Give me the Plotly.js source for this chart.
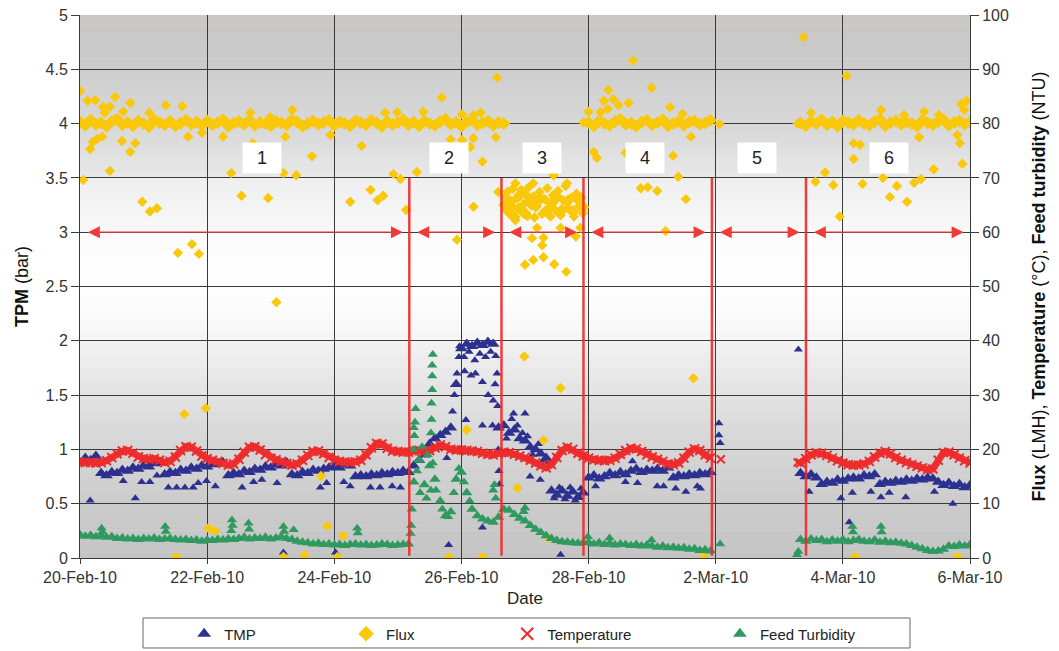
<!DOCTYPE html>
<html>
<head>
<meta charset="utf-8">
<script src="https://cdn.plot.ly/plotly-3.0.1.min.js"></script>
<style>html,body{margin:0;padding:0;background:#fff}#chart{width:1059px;height:651px}</style>
</head>
<body>
<div id="chart"></div>
<script>
// ---------------- DATA ----------------
// Regular samples every 2 hours starting 20-Feb-2010 00:00 (null = no data)
const seriesStart = '2010-02-20';
const sampleHours = 2;

// TMP (bar), left axis
const tmpMain = [
 0.88,0.92,0.90,0.94, 0.78,0.76,0.79,0.78,0.81,0.80,0.83,0.82,0.85,0.84,0.87,0.88,
 0.77,0.79,0.78,0.81,0.80,0.83,0.82,0.85,0.84,0.86,0.87,0.88,
 0.76,0.78,0.77,0.80,0.79,0.82,0.81,0.84,0.83,0.86,0.85,0.88,
 0.77,0.76,0.79,0.78,0.81,0.80,0.82,0.83,0.84,0.83,0.86,0.85,
 0.75,0.76,0.75,0.77,0.76,0.78,0.77,0.79,0.78,0.80,0.79,
 0.85,0.90,0.95,1.05,1.10,1.13,1.16,1.20,1.60,1.93,1.97,1.95,1.98,1.96,1.99,1.97,1.20,
 1.22,1.15,1.18,1.10,1.08,1.02,1.00,0.96,0.92,0.62,0.58,0.62,0.57,0.61,0.56,0.60,
 0.74,0.76,0.73,0.75,0.78,0.76,0.79,0.77,0.80,0.82,0.79,0.81,0.80,0.82,0.80,0.83,0.74,0.76,0.75,0.77,0.76,0.78,0.77,0.79,
 null,null,null,null,null,null,null,null,null,null,null,null,null,null,null,null,
 0.78,0.75,0.77,0.74,0.68,0.70,0.69,0.72,0.71,0.73,0.74,0.73,0.76,0.75,0.77,0.68,0.70,0.69,0.71,0.70,0.72,0.71,0.73,0.72,0.74,0.73,0.70,0.67,0.69,0.66,0.68,0.65,0.67
];

// Flux (LMH), right axis
const fluxMain = [
 80.3,79.7,80.6,79.9,80.1,79.5,80.4,80.8,79.8,80.2,79.6,80.5,
 80.0,79.4,80.7,80.2,79.8,80.4,79.6,80.1,80.6,79.9,80.3,79.7,
 80.5,79.8,80.2,80.7,79.5,80.1,80.4,79.9,80.6,79.7,80.2,80.0,
 79.6,80.4,80.1,79.8,80.7,80.3,79.5,80.0,80.5,79.9,80.2,80.6,
 79.7,80.3,80.0,79.6,80.5,80.2,79.8,80.6,80.1,79.5,80.4,79.9,
 80.2,80.7,79.8,80.3,79.6,80.5,80.0,79.7,80.4,80.8,79.9,80.2,
 79.5,80.3,80.6,79.8,80.1,80.5,79.7,80.2,80.0,
 65.5,64.2,66.8,63.5,65.9,64.8,66.2,63.9,65.3,66.5,64.1,65.7,63.8,66.0,64.6,
 80.2,79.6,80.5,80.0,79.7,80.4,80.8,79.9,80.1,79.5,80.3,80.6,79.8,80.2,80.7,79.6,80.0,80.4,79.7,80.3,80.5,79.9,80.1,80.6,
 null,null,null,null,null,null,null,null,null,null,null,null,null,null,null,null,
 80.1,79.6,80.4,80.0,80.7,79.8,80.3,79.5,80.5,80.2,79.9,80.6,80.0,79.7,80.4,80.8,79.6,80.2,80.5,79.9,80.3,80.0,79.5,80.6,80.1,79.8,80.4,80.7,79.7,80.2,80.5,79.9,80.3
];

// Temperature (°C), right axis
const tempMain = [
 17.7,17.6,17.6,17.5,17.6,17.9,18.5,19.2,19.7,19.8,19.3,18.6,
 18.3,18.2,18.3,18.0,17.6,17.8,18.6,19.8,20.5,20.4,19.7,18.8,
 18.3,18.0,17.8,17.4,17.1,17.3,18.2,19.5,20.4,20.5,19.9,19.0,
 18.4,18.1,17.8,17.4,17.1,17.3,18.0,18.9,19.6,19.7,19.2,18.5,
 18.0,17.8,17.7,17.6,17.7,18.0,19.0,20.3,21.1,21.0,20.2,19.7,
 19.6,19.5,19.5,
 19.7,19.8,19.6,19.8,20.3,20.8,20.5,20.0,19.9,19.9,19.8,19.7,19.6,19.3,19.1,19.0,19.3,
 19.5,19.4,19.1,18.8,18.5,18.0,17.5,17.0,16.6,17.2,18.5,19.8,20.4,20.0,19.3,18.8,
 18.4,18.1,18.0,17.9,18.0,18.4,19.1,19.8,20.2,20.1,19.6,19.0,18.6,18.2,17.8,17.3,17.2,17.5,18.4,19.5,20.1,19.8,19.0,18.4,
 null,null,null,null,null,null,null,null,null,null,null,null,null,null,null,null,
 17.5,18.3,19.0,19.4,19.3,18.9,18.4,17.9,17.5,17.2,17.1,17.1,17.3,17.8,18.6,19.3,19.6,19.2,18.5,18.0,17.6,17.2,16.9,16.6,16.3,16.4,18.0,19.4,19.5,19.0,18.4,17.9,17.5
];

// Feed turbidity (NTU), right axis
const turbMain = [
 4.3,4.0,4.2,3.9,4.1,3.8,3.9,3.6,3.7,3.5,3.6,3.4,
 3.6,3.5,3.7,3.4,3.5,3.6,3.4,3.3,3.4,3.2,3.3,3.1,
 3.3,3.2,3.4,3.3,3.5,3.4,3.6,3.8,3.5,3.7,3.6,3.8,
 3.5,3.7,3.9,3.6,3.4,3.1,2.9,2.8,2.6,2.7,2.5,2.6,
 2.4,2.5,2.3,2.5,2.6,2.4,2.5,2.3,2.4,2.6,2.5,2.3,
 2.4,2.5,2.6,
 14.0,18.0,13.5,17.0,14.5,10.5,7.8,8.5,14.5,15.8,12.0,9.0,7.8,7.2,6.8,6.6,7.5,
 9.0,8.8,8.0,7.3,6.8,6.0,5.3,4.7,4.1,3.6,3.2,3.0,2.9,2.8,2.7,2.8,
 2.9,2.6,2.8,2.5,2.7,2.4,2.6,2.5,2.3,2.5,2.2,2.4,2.2,2.0,2.2,1.9,2.0,1.8,1.9,1.6,1.7,1.4,1.5,1.3,
 null,null,null,null,null,null,null,null,null,null,null,null,null,null,null,null,
 3.4,3.1,3.5,3.2,3.4,3.0,3.3,3.1,3.4,3.0,3.2,3.4,3.1,3.0,3.3,2.9,3.1,2.8,2.9,2.7,2.6,2.3,2.0,1.7,1.4,1.2,1.3,1.6,2.2,2.1,2.4,2.2,2.5
];

// Irregular readings: [days after 20-Feb-2010 00:00, value]
const tmpExtra = [
 [0.16,0.53],[0.68,0.71],[0.87,0.55],[0.97,0.70],[1.10,0.70],[1.21,0.76],[1.39,0.65],[1.52,0.65],[1.65,0.65],[1.78,0.65],
 [1.86,0.69],[1.99,0.71],[2.13,0.66],[2.55,0.65],[2.73,0.70],[2.86,0.72],[3.10,0.69],[3.78,0.65],[3.88,0.69],[4.15,0.70],
 [4.25,0.66],[4.57,0.65],[4.72,0.65],[4.91,0.66],[5.04,0.65],[3.20,0.05],[4.02,0.05],
 [5.80,0.12],[5.77,0.92],[5.86,1.35],[5.89,1.50],[5.93,1.70],[5.96,1.85],[5.97,1.95],[6.04,1.85],[6.12,1.90],[6.21,1.82],
 [6.29,1.88],[6.38,1.85],[6.46,1.90],[6.54,1.86],[6.05,1.72],[6.15,1.68],[6.22,1.70],[6.33,1.62],[6.42,1.50],[6.50,1.45],
 [6.53,1.60],[6.33,1.22],[6.49,1.22],[6.07,1.27],[6.56,1.70],[6.57,1.40],[6.58,1.00],[6.59,0.80],[6.60,0.68],[6.33,0.28],
 [6.71,1.10],[6.79,1.28],[6.88,1.22],[6.96,1.15],[7.04,1.12],[7.12,0.95],[7.21,1.05],[7.29,0.90],[7.38,0.88],[6.82,1.33],
 [7.00,1.33],[7.08,0.75],[7.24,0.72],[7.46,0.55],[7.54,0.65],[7.63,0.54],[7.71,0.65],[7.79,0.53],[7.88,0.64],[7.00,0.46],[7.56,0.03],
 [8.11,0.66],[8.58,0.70],[8.77,0.69],[9.08,0.66],[9.18,0.66],[9.37,0.64],[9.53,0.61],[9.71,0.66],[9.76,0.64],[8.69,0.89],
 [10.05,1.24],[10.05,1.13],[10.07,1.06],[11.30,1.92],
 [11.47,0.61],[11.97,0.55],[12.15,0.60],[12.44,0.61],[12.60,0.56],[12.73,0.60],[12.99,0.56],[13.44,0.61],[13.73,0.50],[12.10,0.33]
];

const fluxExtra = [
 [0.00,86.0],[0.12,84.2],[0.24,84.3],[0.36,83.1],[0.47,83.1],[0.55,84.9],[0.39,82.0],[0.79,83.8],[0.68,82.2],[0.16,75.3],
 [0.20,76.6],[0.27,77.2],[0.35,77.6],[0.66,76.8],[0.79,74.8],[0.87,76.4],[0.47,71.3],[0.05,69.6],[1.09,82.0],[1.35,83.4],
 [1.61,83.2],[1.70,77.6],[1.92,78.3],[2.68,82.0],[3.34,82.5],[2.99,81.2],[3.23,77.6],[2.25,77.6],[2.38,70.9],[2.54,66.7],
 [2.96,66.3],[3.20,70.9],[3.40,70.5],[2.72,76.4],[0.98,65.6],[1.10,63.8],[1.21,64.4],[1.54,56.2],[1.76,57.8],[1.87,56.0],
 [3.09,47.1],[3.65,74.0],[3.94,77.9],[4.25,65.6],[4.43,75.9],[4.57,67.8],[4.68,65.9],[4.77,66.7],[4.93,70.7],[5.04,69.8],
 [5.13,64.1],[4.99,82.1],[4.80,82.0],[1.64,26.5],[1.98,27.6],[2.02,5.5],[2.13,5.0],[3.79,15.1],[3.89,5.9],[4.14,4.1],
 [1.51,0.2],[3.20,0.2],[3.53,0.5],[4.05,0.2],
 [5.93,58.6],[6.19,64.7],[6.33,73.0],[6.58,67.4],[6.08,23.6],[5.80,0.2],[6.33,0.2],[6.56,88.5],[5.69,84.8],[6.30,82.0],
 [6.01,81.7],[6.19,81.6],[5.83,77.1],[6.01,77.0],[6.19,77.3],[6.54,77.5],[6.14,75.7],[5.40,82.2],[5.30,71.1],
 [6.66,65.0],[6.69,66.5],[6.71,64.0],[6.73,67.5],[6.77,63.2],[6.79,65.8],[6.81,68.0],[6.85,62.8],[6.87,66.2],[6.90,64.5],
 [6.94,67.8],[6.96,63.6],[6.98,65.2],[7.02,66.9],[7.04,63.0],[7.06,68.3],[7.10,64.9],[7.13,66.6],[7.15,62.7],[7.19,65.5],
 [7.23,67.4],[7.27,63.4],[7.31,66.1],[7.35,68.1],[7.37,64.3],[7.40,62.9],[7.44,66.8],[7.48,64.0],[7.52,67.6],[7.56,63.1],
 [7.60,65.9],[7.64,68.5],[7.68,64.4],[7.72,66.3],[7.77,62.9],[7.81,67.1],[7.85,64.8],[7.89,66.4],[7.91,63.5],
 [7.11,58.9],[7.29,59.0],[7.19,60.8],[7.27,57.6],[7.00,54.0],[7.13,54.9],[7.29,55.4],[7.46,54.1],[7.65,52.7],[7.56,60.8],
 [7.80,59.2],[6.85,62.2],[7.87,60.8],[7.45,70.5],[7.66,69.0],[7.13,69.0],[6.85,69.0],[6.99,37.1],[7.56,31.3],[7.29,21.7],
 [6.88,12.9],[7.37,3.7],
 [7.92,80.2],[8.70,91.6],[8.31,86.2],[8.24,84.2],[8.39,84.5],[8.30,82.7],[8.47,83.4],[8.63,83.8],[8.19,82.1],[8.00,82.2],
 [8.99,86.6],[9.28,83.0],[9.48,81.8],[8.08,74.8],[8.13,73.7],[8.58,74.6],[9.33,74.1],[8.82,68.1],[8.93,68.3],[9.08,67.6],
 [9.41,70.2],[9.53,66.1],[9.61,77.6],[9.21,60.2],[9.65,33.1],[9.81,0.2],
 [10.06,79.9],
 [11.29,80.0],[11.38,95.9],[12.06,88.8],[11.50,82.0],[12.60,82.5],[13.28,82.2],[13.86,83.6],[13.95,84.2],[13.91,82.5],[12.96,81.6],
 [13.51,81.6],[12.17,76.4],[12.27,76.1],[12.17,73.5],[13.20,77.5],[13.80,77.9],[13.84,76.4],[13.43,71.6],[13.88,72.6],[13.12,69.1],
 [13.23,69.8],[12.31,68.9],[12.63,70.0],[12.85,68.5],[12.74,66.5],[13.01,65.6],[11.72,71.0],[11.57,69.3],[11.85,68.7],[11.95,62.9],
 [12.19,0.2],[13.81,0.2]
];

const tempExtra = [[10.08,18.2],[11.29,17.6]];

const turbExtra = [
 [0.34,5.5],[0.35,4.8],[1.34,5.8],[1.35,4.9],[2.39,7.0],[2.40,6.0],[2.38,5.0],[2.65,6.4],[2.66,5.3],[3.20,5.8],[3.21,4.9],
 [3.36,5.2],[4.36,5.5],[4.37,4.6],
 [5.20,4.5],[5.21,6.0],[5.22,9.0],[5.24,20.0],[5.25,24.0],[5.26,22.5],[5.27,25.0],[5.28,27.5],[5.30,16.0],[5.35,12.0],
 [5.38,20.5],[5.45,11.0],[5.47,19.0],[5.52,12.5],[5.55,17.5],[5.52,23.0],[5.53,25.5],[5.53,28.5],[5.54,31.0],[5.54,33.5],
 [5.54,35.5],[5.55,37.5],[5.60,12.5],[5.70,9.0],[5.79,7.6],[5.88,12.0],[5.96,16.5],[6.04,14.0],[6.13,10.5],[6.50,12.5],
 [6.52,13.5],[6.54,11.0],[6.98,8.5],[7.00,9.2],
 [7.99,3.9],[8.33,3.7],[8.99,3.3],[10.07,2.6],
 [11.28,0.6],[11.30,1.2],[12.15,5.8],[12.16,4.8],[12.60,5.8],[12.61,4.8]
];

// Operating periods: boundaries (days after start) and labels
const periodBounds = [0, 5.18, 6.63, 7.92, 9.94, 11.42, 14];
const periodLabels = ['1','2','3','4','5','6'];
const periodLabelDay = [2.87, 5.81, 7.26, 8.88, 10.65, 12.72];

// ---------------- HELPERS / STYLE ----------------
const DAY_MS = 86400000;
const startMs = Date.parse(seriesStart + 'T00:00:00Z');
function dayToDate(d) {
  return new Date(startMs + Math.round(d * DAY_MS)).toISOString().slice(0, 19).replace('T', ' ');
}
const mainDates = tmpMain.map((_, k) => dayToDate(k * sampleHours / 24));
const colX = arr => arr.map(p => dayToDate(p[0]));
const colY = arr => arr.map(p => p[1]);

const C = { tmp: '#2c3190', flux: '#f9c80b', temp: '#ee2b2b', turb: '#2f9a60', grid: '#3a3a3a', text: '#333333' };
const FONT = "Liberation Sans, Arial, sans-serif";

const traces = [
  { name: 'TMP', legend: 'legend', x: mainDates, y: tmpMain, yaxis: 'y', type: 'scatter', mode: 'markers',
    marker: { symbol: 'triangle-up', size: 11, color: C.tmp }, hoverinfo: 'skip' },
  { name: 'TMP', showlegend: false, x: colX(tmpExtra), y: colY(tmpExtra), yaxis: 'y', type: 'scatter', mode: 'markers',
    marker: { symbol: 'triangle-up', size: 8, color: C.tmp }, hoverinfo: 'skip' },
  { name: 'Flux', legend: 'legend2', x: mainDates, y: fluxMain, yaxis: 'y2', type: 'scatter', mode: 'markers',
    marker: { symbol: 'diamond', size: 10, color: C.flux }, hoverinfo: 'skip' },
  { name: 'Flux', showlegend: false, x: colX(fluxExtra), y: colY(fluxExtra), yaxis: 'y2', type: 'scatter', mode: 'markers',
    marker: { symbol: 'diamond', size: 8, color: C.flux }, hoverinfo: 'skip' },
  { name: 'Temperature', showlegend: false, x: mainDates, y: tempMain, yaxis: 'y2', type: 'scatter', mode: 'lines',
    line: { color: 'rgba(238,43,43,0.95)', width: 7 }, connectgaps: false, hoverinfo: 'skip' },
  { name: 'Temperature', legend: 'legend3', x: mainDates, y: tempMain, yaxis: 'y2', type: 'scatter', mode: 'markers',
    marker: { symbol: 'x-thin', size: 9, color: C.temp, line: { width: 2, color: C.temp } }, hoverinfo: 'skip' },
  { name: 'Temperature', showlegend: false, x: colX(tempExtra), y: colY(tempExtra), yaxis: 'y2', type: 'scatter', mode: 'markers',
    marker: { symbol: 'x-thin', size: 8, color: C.temp, line: { width: 2, color: C.temp } }, hoverinfo: 'skip' },
  { name: 'Feed Turbidity', legend: 'legend4', x: mainDates, y: turbMain, yaxis: 'y2', type: 'scatter', mode: 'markers',
    marker: { symbol: 'triangle-up', size: 10, color: C.turb }, hoverinfo: 'skip' },
  { name: 'Feed Turbidity', showlegend: false, x: colX(turbExtra), y: colY(turbExtra), yaxis: 'y2', type: 'scatter', mode: 'markers',
    marker: { symbol: 'triangle-up', size: 9, color: C.turb }, hoverinfo: 'skip' }
];

// background: vertical gradient bands between gridlines (bottom colour, top colour)
const bgBands = [
  ['#c4c4c4', '#cbcbcb'], ['#cbcbcb', '#d6d6d6'], ['#d4d4d4', '#e2e2e2'], ['#e2e2e2', '#f2f2f2'], ['#f6f6f6', '#ffffff'],
  ['#ffffff', '#fcfcfc'], ['#f8f8f8', '#efefef'], ['#e8e8e8', '#d6d6d6'], ['#d8d8d8', '#cdcdcd'], ['#cbcbcb', '#c8c7c6']
];
function hexToRgb(h) { return [1, 3, 5].map(i => parseInt(h.substr(i, 2), 16)); }
const shapes = [];
bgBands.forEach((pair, b) => {
  const c0 = hexToRgb(pair[0]), c1 = hexToRgb(pair[1]);
  const N = 10;
  for (let i = 0; i < N; i++) {
    const f = (i + 0.5) / N;
    const c = c0.map((v, j) => Math.round(v + (c1[j] - v) * f));
    shapes.push({ type: 'rect', xref: 'paper', yref: 'y', x0: 0, x1: 1,
      y0: b * 0.5 + i * 0.5 / N, y1: b * 0.5 + (i + 1) * 0.5 / N + 0.002,
      fillcolor: `rgb(${c[0]},${c[1]},${c[2]})`, line: { width: 0 }, layer: 'below' });
  }
});
// red period boundary lines
periodBounds.slice(1, -1).forEach(d => {
  shapes.push({ type: 'line', xref: 'x', yref: 'y', x0: dayToDate(d), x1: dayToDate(d), y0: 0.02, y1: 3.5,
    line: { color: 'rgba(240,40,40,0.9)', width: 2.5 }, layer: 'above' });
});
// legend frame
shapes.push({ type: 'rect', xref: 'paper', yref: 'paper', x0: 0.0708, x1: 0.9326, y0: -0.1657, y1: -0.1105,
  line: { color: '#666', width: 1 }, fillcolor: 'rgba(0,0,0,0)', layer: 'above' });

const annotations = [];
for (let i = 0; i < periodBounds.length - 1; i++) {
  annotations.push({ xref: 'x', yref: 'y', axref: 'x', ayref: 'y',
    ax: dayToDate(periodBounds[i] + 0.1), ay: 3.0, x: dayToDate(periodBounds[i + 1] - 0.1), y: 3.0,
    text: '', showarrow: true, arrowside: 'end+start', arrowhead: 2, startarrowhead: 2,
    arrowsize: 2, startarrowsize: 2, arrowwidth: 1.2, arrowcolor: '#f03a3a', standoff: 0, startstandoff: 0 });
}
periodLabels.forEach((t, i) => {
  annotations.push({ xref: 'x', yref: 'y', x: dayToDate(periodLabelDay[i]), y: 3.68, text: t, showarrow: false,
    bgcolor: '#ffffff', width: 34, height: 26, borderpad: 2, font: { family: FONT, size: 18, color: '#222' } });
});

const legendBase = { orientation: 'h', xref: 'paper', yref: 'container', y: 0.026, yanchor: 'middle', xanchor: 'left',
  bgcolor: 'rgba(0,0,0,0)', borderwidth: 0, itemsizing: 'constant',
  font: { family: FONT, size: 15, color: '#222' } };

const layout = {
  width: 1059, height: 651,
  margin: { l: 80, r: 89, t: 15, b: 93 },
  paper_bgcolor: '#ffffff', plot_bgcolor: '#e6e6e6',
  font: { family: FONT, size: 16, color: C.text },
  showlegend: true,
  xaxis: {
    type: 'date', range: [dayToDate(0), dayToDate(14)], tick0: dayToDate(0), dtick: 2 * DAY_MS,
    tickformat: '%-d-%b-%y', showgrid: true, gridcolor: C.grid, gridwidth: 1, zeroline: false,
    showline: true, linecolor: C.grid, linewidth: 1, ticks: 'outside', ticklen: 5, tickcolor: C.grid,
    tickfont: { family: FONT, size: 16, color: C.text },
    title: { text: 'Date', font: { family: FONT, size: 17, color: '#222' }, standoff: 6 }
  },
  yaxis: {
    range: [0, 5], dtick: 0.5, showgrid: true, gridcolor: C.grid, gridwidth: 1, zeroline: false,
    showline: true, linecolor: C.grid, ticks: 'outside', ticklen: 8, tickcolor: C.grid,
    tickfont: { size: 16, color: C.text },
    title: { text: '<b>TPM</b> (bar)', font: { family: FONT, size: 18, color: '#111' }, standoff: 12 }
  },
  yaxis2: {
    overlaying: 'y', side: 'right', range: [0, 100], dtick: 10, showgrid: false, zeroline: false,
    showline: true, linecolor: C.grid, ticks: 'outside', ticklen: 8, tickcolor: C.grid,
    tickfont: { size: 16, color: C.text },
    title: { text: '<b>Flux</b> (LMH), <b>Temperature</b> (°C), <b>Feed turbidity</b> (NTU)',
      font: { family: FONT, size: 18, color: '#111' }, standoff: 24 }
  },
  legend: Object.assign({}, legendBase, { x: 0.117 }),
  legend2: Object.assign({}, legendBase, { x: 0.299 }),
  legend3: Object.assign({}, legendBase, { x: 0.480 }),
  legend4: Object.assign({}, legendBase, { x: 0.719 }),
  shapes: shapes,
  annotations: annotations,
  hovermode: false
};

Plotly.newPlot('chart', traces, layout, { staticPlot: true, displayModeBar: false });
</script>
</body>
</html>
